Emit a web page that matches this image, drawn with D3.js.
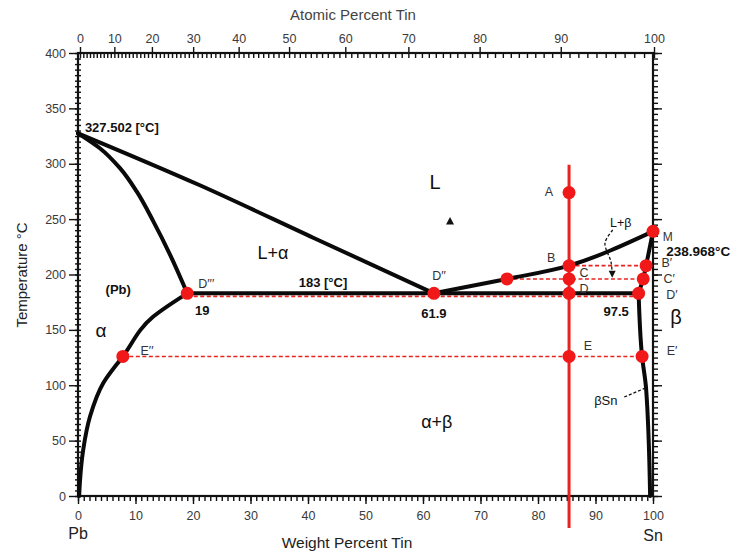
<!DOCTYPE html>
<html><head><meta charset="utf-8">
<script src="https://cdn.jsdelivr.net/npm/d3@7"></script>
<style>
body{margin:0;background:#fff;}
svg{display:block;font-family:"Liberation Sans",Arial,Helvetica,sans-serif;}
</style></head><body>
<svg id="chart" width="742" height="555"></svg>
<script>
// Lead–tin equilibrium phase diagram with a worked cooling path at 85.4 wt% Sn

// axis ticks
const wtTicks = [0, 10, 20, 30, 40, 50, 60, 70, 80, 90, 100];
const atTicks = [0, 10, 20, 30, 40, 50, 60, 70, 80, 90, 100];
const tempTicks = [0, 50, 100, 150, 200, 250, 300, 350, 400];

// atomic masses, used to place the atomic-percent scale
const massSn = 118.71, massPb = 207.2;

// key temperatures / compositions
const meltPb = 327.502, meltSn = 238.968, eutecticT = 183;
const eutecticAlpha = 19, eutecticLiquid = 61.9, eutecticBeta = 97.5;

// phase boundaries [wt% Sn, °C]
const liquidusAlpha = [[0, 327.502], [21, 281], [41, 233], [61.9, 183]];
const solidusAlpha = [[0, 327.502], [3.8, 314], [7.3, 296], [10.2, 275], [13.1, 248], [16, 218], [19, 183]];
const solvusAlpha = [[19, 183], [13.1, 162], [7.8, 126], [4.4, 102], [2.1, 72], [0.9, 41.5], [0.35, 14], [0.2, 0]];
const eutecticLine = [[19, 183], [97.5, 183]];
const liquidusBeta = [[61.9, 183], [74.6, 196], [85.4, 208], [100, 238.968]];
const solidusBeta = [[100, 238.968], [98.8, 208], [98.3, 196], [97.5, 183]];
const solvusBeta = [[97.5, 183], [98.1, 126], [98.8, 97], [99.5, 0]];

// cooling path of the alloy
const alloyWt = 85.4;
const alloyTempSpan = [299, -29];

// marked state points
const markNames = ["A", "B", "C", "D", "E", "D''", "D'''", "E''", "E'", "D'", "C'", "B'", "M", "Lc"];
const markWt = [85.4, 85.4, 85.4, 85.4, 85.4, 61.9, 19, 7.8, 98.1, 97.5, 98.3, 98.8, 100, 74.6];
const markT = [274, 208, 196, 183, 126, 183, 183, 126, 126, 183, 196, 208, 238.968, 196];

// tie lines [from wt, to wt, °C]
const tieFrom = [85.4, 74.6, 19, 7.8];
const tieTo = [98.8, 98.3, 97.5, 98.1];
const tieT = [208, 196, 183, 126];

const svg = d3.select("#chart");
const x = d3.scaleLinear().domain([0, 100]).range([78, 653]);
const y = d3.scaleLinear().domain([0, 400]).range([496, 53]);
const xTop = d3.scaleLinear().domain([0, 100]).range([80, 654]);
const atToWt = a => 100 * a * massSn / (a * massSn + (100 - a) * massPb);

const tickColor = "#3a3a3a";

function styleAxis(g, fontSize) {
  g.select(".domain").remove();
  g.selectAll(".tick line").attr("stroke", "#111").attr("stroke-width", 1.4);
  g.selectAll(".tick text").attr("fill", tickColor).attr("font-size", fontSize)
    .attr("font-family", "Liberation Sans, Arial, sans-serif");
}

// bottom axis (weight percent)
svg.append("g").attr("transform", "translate(0,496)")
  .call(d3.axisBottom(x).tickValues(d3.range(0, 101, 1)).tickSize(5).tickFormat(""))
  .call(g => styleAxis(g, 12));
svg.append("g").attr("transform", "translate(0,496)")
  .call(d3.axisBottom(x).tickValues(wtTicks).tickSize(8).tickPadding(7))
  .call(g => styleAxis(g, 12.5));

// top axis (atomic percent)
svg.append("g").attr("transform", "translate(0,53)")
  .call(d3.axisBottom(xTop).tickValues(d3.range(0, 101, 1).map(atToWt)).tickSize(5).tickFormat(""))
  .call(g => styleAxis(g, 12));
svg.append("g").attr("transform", "translate(0,53)")
  .call(d3.axisTop(xTop).tickValues(atTicks.map(atToWt)).tickSize(6).tickPadding(4)
    .tickFormat((d, i) => atTicks[i]))
  .call(g => styleAxis(g, 12.5));

// left axis (temperature)
svg.append("g").attr("transform", "translate(78,0)")
  .call(d3.axisLeft(y).tickValues(d3.range(0, 401, 5)).tickSize(3).tickFormat(""))
  .call(g => styleAxis(g, 12));
svg.append("g").attr("transform", "translate(78,0)")
  .call(d3.axisRight(y).tickValues(d3.range(0, 401, 5)).tickSize(3).tickFormat(""))
  .call(g => styleAxis(g, 12));
svg.append("g").attr("transform", "translate(78,0)")
  .call(d3.axisLeft(y).tickValues(tempTicks).tickSize(9).tickPadding(3))
  .call(g => styleAxis(g, 12.5));

// right axis
svg.append("g").attr("transform", "translate(653,0)")
  .call(d3.axisRight(y).tickValues(d3.range(0, 401, 5)).tickSize(5).tickFormat(""))
  .call(g => styleAxis(g, 12));
svg.append("g").attr("transform", "translate(653,0)")
  .call(d3.axisRight(y).tickValues(tempTicks).tickSize(9).tickFormat(""))
  .call(g => styleAxis(g, 12));

// frame
svg.append("rect")
  .attr("x", x(0)).attr("y", y(400))
  .attr("width", x(100) - x(0)).attr("height", y(0) - y(400))
  .attr("fill", "none").attr("stroke", "#111").attr("stroke-width", 2.2);

// axis titles
svg.append("text").attr("x", 353).attr("y", 20).attr("text-anchor", "middle")
  .attr("font-size", 15).attr("fill", "#444").text("Atomic Percent Tin");
svg.append("text").attr("x", 347).attr("y", 548).attr("text-anchor", "middle")
  .attr("font-size", 15.5).attr("fill", "#222").text("Weight Percent Tin");
svg.append("text").attr("transform", "translate(27,275) rotate(-90)").attr("text-anchor", "middle")
  .attr("font-size", 15).attr("fill", "#222").text("Temperature °C");
svg.append("text").attr("x", x(0)).attr("y", 539).attr("text-anchor", "middle")
  .attr("font-size", 16).attr("fill", "#222").text("Pb");
svg.append("text").attr("x", x(100)).attr("y", 541).attr("text-anchor", "middle")
  .attr("font-size", 16).attr("fill", "#222").text("Sn");

// tie lines (red dashed)
const tieG = svg.append("g");
tieFrom.forEach((w, i) => {
  const off = tieT[i] === eutecticT ? 3 : 0;
  tieG.append("line")
    .attr("x1", x(w)).attr("x2", x(tieTo[i]))
    .attr("y1", y(tieT[i]) + off).attr("y2", y(tieT[i]) + off)
    .attr("stroke", "#e8231f").attr("stroke-width", 1.6).attr("stroke-dasharray", "4,2.5");
});

// phase boundaries
const line = d3.line().x(d => x(d[0])).y(d => y(d[1]));
const alongX = d3.line().x(d => x(d[0])).y(d => y(d[1])).curve(d3.curveMonotoneX);
const alongY = d3.line().x(d => x(d[0])).y(d => y(d[1])).curve(d3.curveMonotoneY);
const curved = d3.line().x(d => x(d[0])).y(d => y(d[1])).curve(d3.curveCatmullRom.alpha(0.5));
const boundaries = [
  [liquidusAlpha, alongX], [solidusAlpha, alongY], [solvusAlpha, alongY],
  [eutecticLine, line], [liquidusBeta, alongX], [solidusBeta, line], [solvusBeta, alongY]
];
boundaries.forEach(([data, gen]) => {
  svg.append("path").attr("d", gen(data)).attr("fill", "none")
    .attr("stroke", "#0a0a0a").attr("stroke-width", 4).attr("stroke-linecap", "round")
    .attr("stroke-linejoin", "round");
});

// alloy cooling path
svg.append("line")
  .attr("x1", x(alloyWt)).attr("x2", x(alloyWt))
  .attr("y1", y(alloyTempSpan[0])).attr("y2", y(alloyTempSpan[1]))
  .attr("stroke", "#e8231f").attr("stroke-width", 3);

// state points
svg.append("g").selectAll("circle").data(markNames).join("circle")
  .attr("cx", (d, i) => x(markWt[i])).attr("cy", (d, i) => y(markT[i]))
  .attr("r", 6.5).attr("fill", "#f01818");

// L+β pointer
const arrowPts = [[93.0, 240.2], [91.65, 228.4], [92.7, 211.3], [92.9, 199.5]];
svg.append("path").attr("d", curved(arrowPts)).attr("fill", "none")
  .attr("stroke", "#111").attr("stroke-width", 1.3).attr("stroke-dasharray", "3,2");
{
  const ax = x(92.9), ay = y(197);
  svg.append("path").attr("d", `M${ax - 3.5},${ay - 7}L${ax + 3.5},${ay - 7}L${ax},${ay}Z`).attr("fill", "#111");
}
// βSn leader
svg.append("path").attr("d", line([[95, 89.4], [98.7, 97.5]])).attr("fill", "none")
  .attr("stroke", "#111").attr("stroke-width", 1.3).attr("stroke-dasharray", "3,2");
// marker in the liquid field
{
  const tx = x(64.7), ty = y(248.3);
  svg.append("path").attr("d", `M${tx - 4},${ty + 3.5}L${tx + 4},${ty + 3.5}L${tx},${ty - 4}Z`).attr("fill", "#111");
}

// text annotations: [text, wt, °C, size, weight, anchor, colour]
const notes = [
  ["327.502 [°C]", 1.2, 333, 13, "bold", "start", "#111"],
  ["238.968°C", 102.3, 221.5, 13.5, "bold", "start", "#111"],
  ["M", 101.7, 234.5, 12, "normal", "start", "#333"],
  ["L", 62.1, 283.5, 20, "normal", "middle", "#111"],
  ["L+α", 33.9, 219.4, 18, "normal", "middle", "#111"],
  ["183 [°C]", 42.6, 193.2, 13, "bold", "middle", "#111"],
  ["D′′", 62.8, 199.5, 12.5, "normal", "middle", "#333"],
  [eutecticLiquid.toString(), 61.9, 165.2, 13, "bold", "middle", "#111"],
  ["D′′′", 22.3, 192.3, 12.5, "normal", "middle", "#333"],
  [eutecticAlpha.toString(), 21.6, 168, 13, "bold", "middle", "#111"],
  ["(Pb)", 7, 187, 13, "bold", "middle", "#111"],
  ["α", 4, 150, 19, "normal", "middle", "#111"],
  ["E′′", 12, 131.8, 12.5, "normal", "middle", "#333"],
  ["A", 81.9, 274.5, 12.5, "normal", "middle", "#333"],
  ["B", 82.3, 215.8, 12.5, "normal", "middle", "#333"],
  ["C", 88, 201.4, 12.5, "normal", "middle", "#333"],
  ["D", 88, 187, 12.5, "normal", "middle", "#333"],
  ["E", 88.7, 136.3, 12.5, "normal", "middle", "#333"],
  ["B′", 102.4, 210.4, 12.5, "normal", "middle", "#333"],
  ["C′", 102.8, 196.8, 12.5, "normal", "middle", "#333"],
  ["D′", 103.3, 181.5, 12.5, "normal", "middle", "#333"],
  ["β", 104, 161.6, 20, "normal", "middle", "#111"],
  ["E′", 103.3, 131.8, 12.5, "normal", "middle", "#333"],
  ["L+β", 94.4, 247.4, 12.5, "normal", "middle", "#111"],
  [eutecticBeta.toString(), 93.6, 167, 13, "bold", "middle", "#111"],
  ["βSn", 91.8, 86.7, 13, "normal", "middle", "#111"],
  ["α+β", 62.4, 66.8, 18, "normal", "middle", "#111"]
];
svg.append("g").selectAll("text").data(notes).join("text")
  .attr("x", d => x(d[1])).attr("y", d => y(d[2]))
  .attr("dy", "0.36em")
  .attr("font-size", d => d[3]).attr("font-weight", d => d[4])
  .attr("text-anchor", d => d[5]).attr("fill", d => d[6])
  .text(d => d[0]);
</script>
</body></html>
